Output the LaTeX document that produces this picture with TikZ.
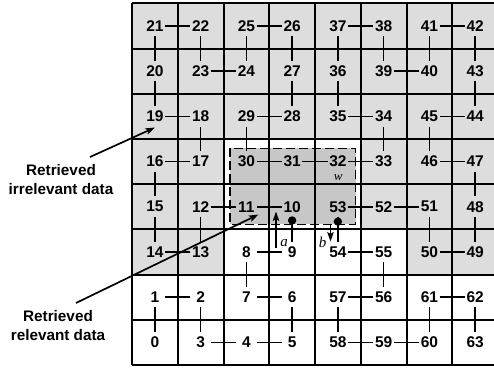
\documentclass[tikz,border=0pt]{standalone}
\usepackage{fontspec}
\setmainfont{Liberation Sans}
\newfontfamily\tnrfont{Liberation Serif}
\usetikzlibrary{arrows.meta,calc}
\definecolor{lgray}{gray}{0.865}
\definecolor{dgray}{gray}{0.78}
\tikzset{
  gridline/.style={line width=2pt},
  num/.style={inner sep=0pt, font=\fontsize{15.5}{17}\selectfont\bfseries},
  link/.style={line width=1.6pt, shorten >=10.3pt, shorten <=10.3pt},
  arr/.style={line width=1.7pt, -{Stealth[length=9.5pt,width=6.5pt,inset=2pt]}},
  lab/.style={align=center, inner sep=0pt, font=\fontsize{15.3}{19}\selectfont\bfseries},
  varlab/.style={inner sep=0pt, font=\fontsize{15}{16}\selectfont\tnrfont\itshape},
  window/.style={line width=1.5pt, dash pattern=on 9pt off 4pt}
}
\begin{document}
\begin{tikzpicture}[x=1pt,y=-1pt]
\useasboundingbox (0,0) rectangle (494,369);
\clip (0,0) rectangle (494,369);
% shading
\fill[lgray] (132,3.3) rectangle (498,274.5);
\fill[white] (223.5,229.3) rectangle (406.5,274.5);
\fill[white] (223.5,138.9) rectangle (360.75,229.3);
\fill[dgray] (230,148.3) rectangle (355.7,224.3);
% grid
\foreach \i in {0,...,8} \draw[gridline] ({132+45.75*\i},3.3) -- ({132+45.75*\i},365);
\foreach \j in {0,...,8} \draw[gridline] (132,{3.3+45.2*\j}) -- (498,{3.3+45.2*\j});
% window
\draw[window] (230,148.3) rectangle (355.7,224.3);
% cell numbers
\foreach \row [count=\r from 0] in {{21,22,25,26,37,38,41,42},{20,23,24,27,36,39,40,43},{19,18,29,28,35,34,45,44},{16,17,30,31,32,33,46,47},{15,12,11,10,53,52,51,48},{14,13,8,9,54,55,50,49},{1,2,7,6,57,56,61,62},{0,3,4,5,58,59,60,63}}{
  \foreach \n [count=\c from 0] in \row {
    \node[num] (n\n) at ({132+45.75*\c+22.875},{3.3+45.2*\r+22.6}) {\n};
  }
}
% curve links
\foreach \i [evaluate=\i as \j using int(\i+1)] in {0,...,62}
  \draw[link] (n\i.center) -- (n\j.center);
% dots
\coordinate (d1) at ($(n10.center)!0.305!(n9.center)$);
\coordinate (d2) at ($(n53.center)!0.33!(n54.center)$);
\fill (d1) circle (4.2pt);
\fill (d2) circle (4.2pt);
% a and b arrows
\coordinate (a1) at (276,248);
\coordinate (a2) at (276,211.5);
\draw[arr] (a1) -- (a2);
\coordinate (b1) at (330.5,224);
\coordinate (b2) at (330.5,241.5);
\draw[arr] (b1) -- (b2);
\node[varlab] (la) at (284,243) {a};
\node[varlab] (lb) at (322.5,242) {b};
\node[varlab, font=\fontsize{13}{14}\selectfont\tnrfont\itshape] (lw) at (338.3,178) {w};
% side labels
\node[lab] (irr) at (61,180) {Retrieved\\irrelevant data};
\node[lab] (rel) at (58,326) {Retrieved\\relevant data};
\coordinate (irrS) at (90,157);
\coordinate (irrT) at (155,127.5);
\draw[arr] (irrS) -- (irrT);
\coordinate (relS) at (76,303);
\coordinate (relT) at (258.5,214.5);
\draw[arr] (relS) -- (relT);
\end{tikzpicture}
\end{document}
